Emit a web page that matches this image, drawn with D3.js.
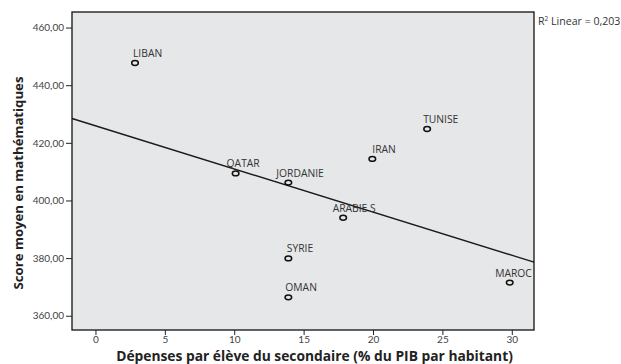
<!DOCTYPE html>
<html><head><meta charset="utf-8">
<script src="https://cdn.jsdelivr.net/npm/d3@7"></script>
<style>
html,body{margin:0;padding:0;background:#fff;}
svg{display:block;font-family:"Open Sans","Noto Sans",sans-serif;}
</style></head>
<body>
<svg id="chart" width="621" height="364"></svg>
<script>
const countries = ["LIBAN","QATAR","JORDANIE","ARABIE S","IRAN","SYRIE","OMAN","TUNISE","MAROC"];
const spending = [2.85, 10.1, 13.9, 17.85, 19.95, 13.9, 13.9, 23.9, 29.85];
const mathScore = [447.7, 409.4, 406.2, 394.0, 414.4, 379.9, 366.4, 424.8, 371.5];
const xTicks = [0, 5, 10, 15, 20, 25, 30];
const yTicks = [360, 380, 400, 420, 440, 460];
const r2Text = "0,203";
// label placement (horizontal shift of each country label, px)
const labelShift = [-2, -9, -12, -10.5, 0, -1.5, -3, -4, -14.5];

const svg = d3.select("#chart");
const L = 72, R = 534, T = 12, B = 330;
const x = d3.scaleLinear().domain([-1.69, 31.6]).range([L, R]);
const y = d3.scaleLinear().domain([355.05, 465.4]).range([B, T]);

svg.append("rect").attr("x", L).attr("y", T).attr("width", R - L).attr("height", B - T)
  .attr("fill", "#e6e7e8");

// regression
const n = spending.length;
const mx = d3.mean(spending), my = d3.mean(mathScore);
let sxy = 0, sxx = 0;
for (let i = 0; i < n; i++) { sxy += (spending[i]-mx)*(mathScore[i]-my); sxx += (spending[i]-mx)**2; }
const slope = sxy / sxx, icpt = my - slope * mx;
const [x0, x1] = x.domain();
svg.append("line")
  .attr("x1", x(x0)).attr("y1", y(icpt + slope * x0))
  .attr("x2", x(x1)).attr("y2", y(icpt + slope * x1))
  .attr("stroke", "#1a1a1a").attr("stroke-width", 1.4);

// points
const pts = svg.append("g");
countries.forEach((c, i) => {
  pts.append("ellipse").attr("cx", x(spending[i])).attr("cy", y(mathScore[i]))
    .attr("rx", 3.3).attr("ry", 2.4).attr("fill", "none").attr("stroke", "#111").attr("stroke-width", 1.5);
  pts.append("text").attr("x", x(spending[i]) + labelShift[i]).attr("y", y(mathScore[i]) - 6)
    .attr("font-size", 10.3).attr("fill", "#333").text(c);
});

// frame
svg.append("rect").attr("x", L).attr("y", T).attr("width", R - L).attr("height", B - T)
  .attr("fill", "none").attr("stroke", "#111").attr("stroke-width", 1.3);

// axes
const yAxis = d3.axisLeft(y).tickValues(yTicks).tickSize(6).tickPadding(2)
  .tickFormat(d => d3.format(".2f")(d).replace(".", ","));
const gy = svg.append("g").attr("transform", `translate(${L},0)`).call(yAxis);
gy.select(".domain").remove();
gy.selectAll("line").attr("stroke", "#222");
gy.selectAll("text").attr("font-size", 10).attr("fill", "#444").attr("font-family", "Lato, 'Open Sans', sans-serif");

const xAxis = d3.axisBottom(x).tickValues(xTicks).tickSize(5).tickPadding(0.5).tickFormat(d3.format("d"));
const gx = svg.append("g").attr("transform", `translate(0,${B})`).call(xAxis);
gx.select(".domain").remove();
gx.selectAll("line").attr("stroke", "#222");
gx.selectAll("text").attr("font-size", 10).attr("fill", "#444").attr("font-family", "Lato, 'Open Sans', sans-serif");

// titles
svg.append("text").attr("x", 314.5).attr("y", 361).attr("text-anchor", "middle")
  .attr("font-size", 13.8).attr("font-weight", "bold").attr("fill", "#222")
  .text("Dépenses par élève du secondaire (% du PIB par habitant)");
svg.append("text").attr("transform", "translate(23,183) rotate(-90)").attr("text-anchor", "middle")
  .attr("font-size", 13.2).attr("font-weight", "bold").attr("fill", "#222")
  .text("Score moyen en mathématiques");

const r2 = svg.append("text").attr("x", 538).attr("y", 25).attr("font-size", 10.6).attr("fill", "#333");
r2.append("tspan").text("R");
r2.append("tspan").attr("dy", -4).attr("font-size", 6.5).text("2");
r2.append("tspan").attr("dy", 4).text(" Linear = " + r2Text);
</script>
</body></html>
